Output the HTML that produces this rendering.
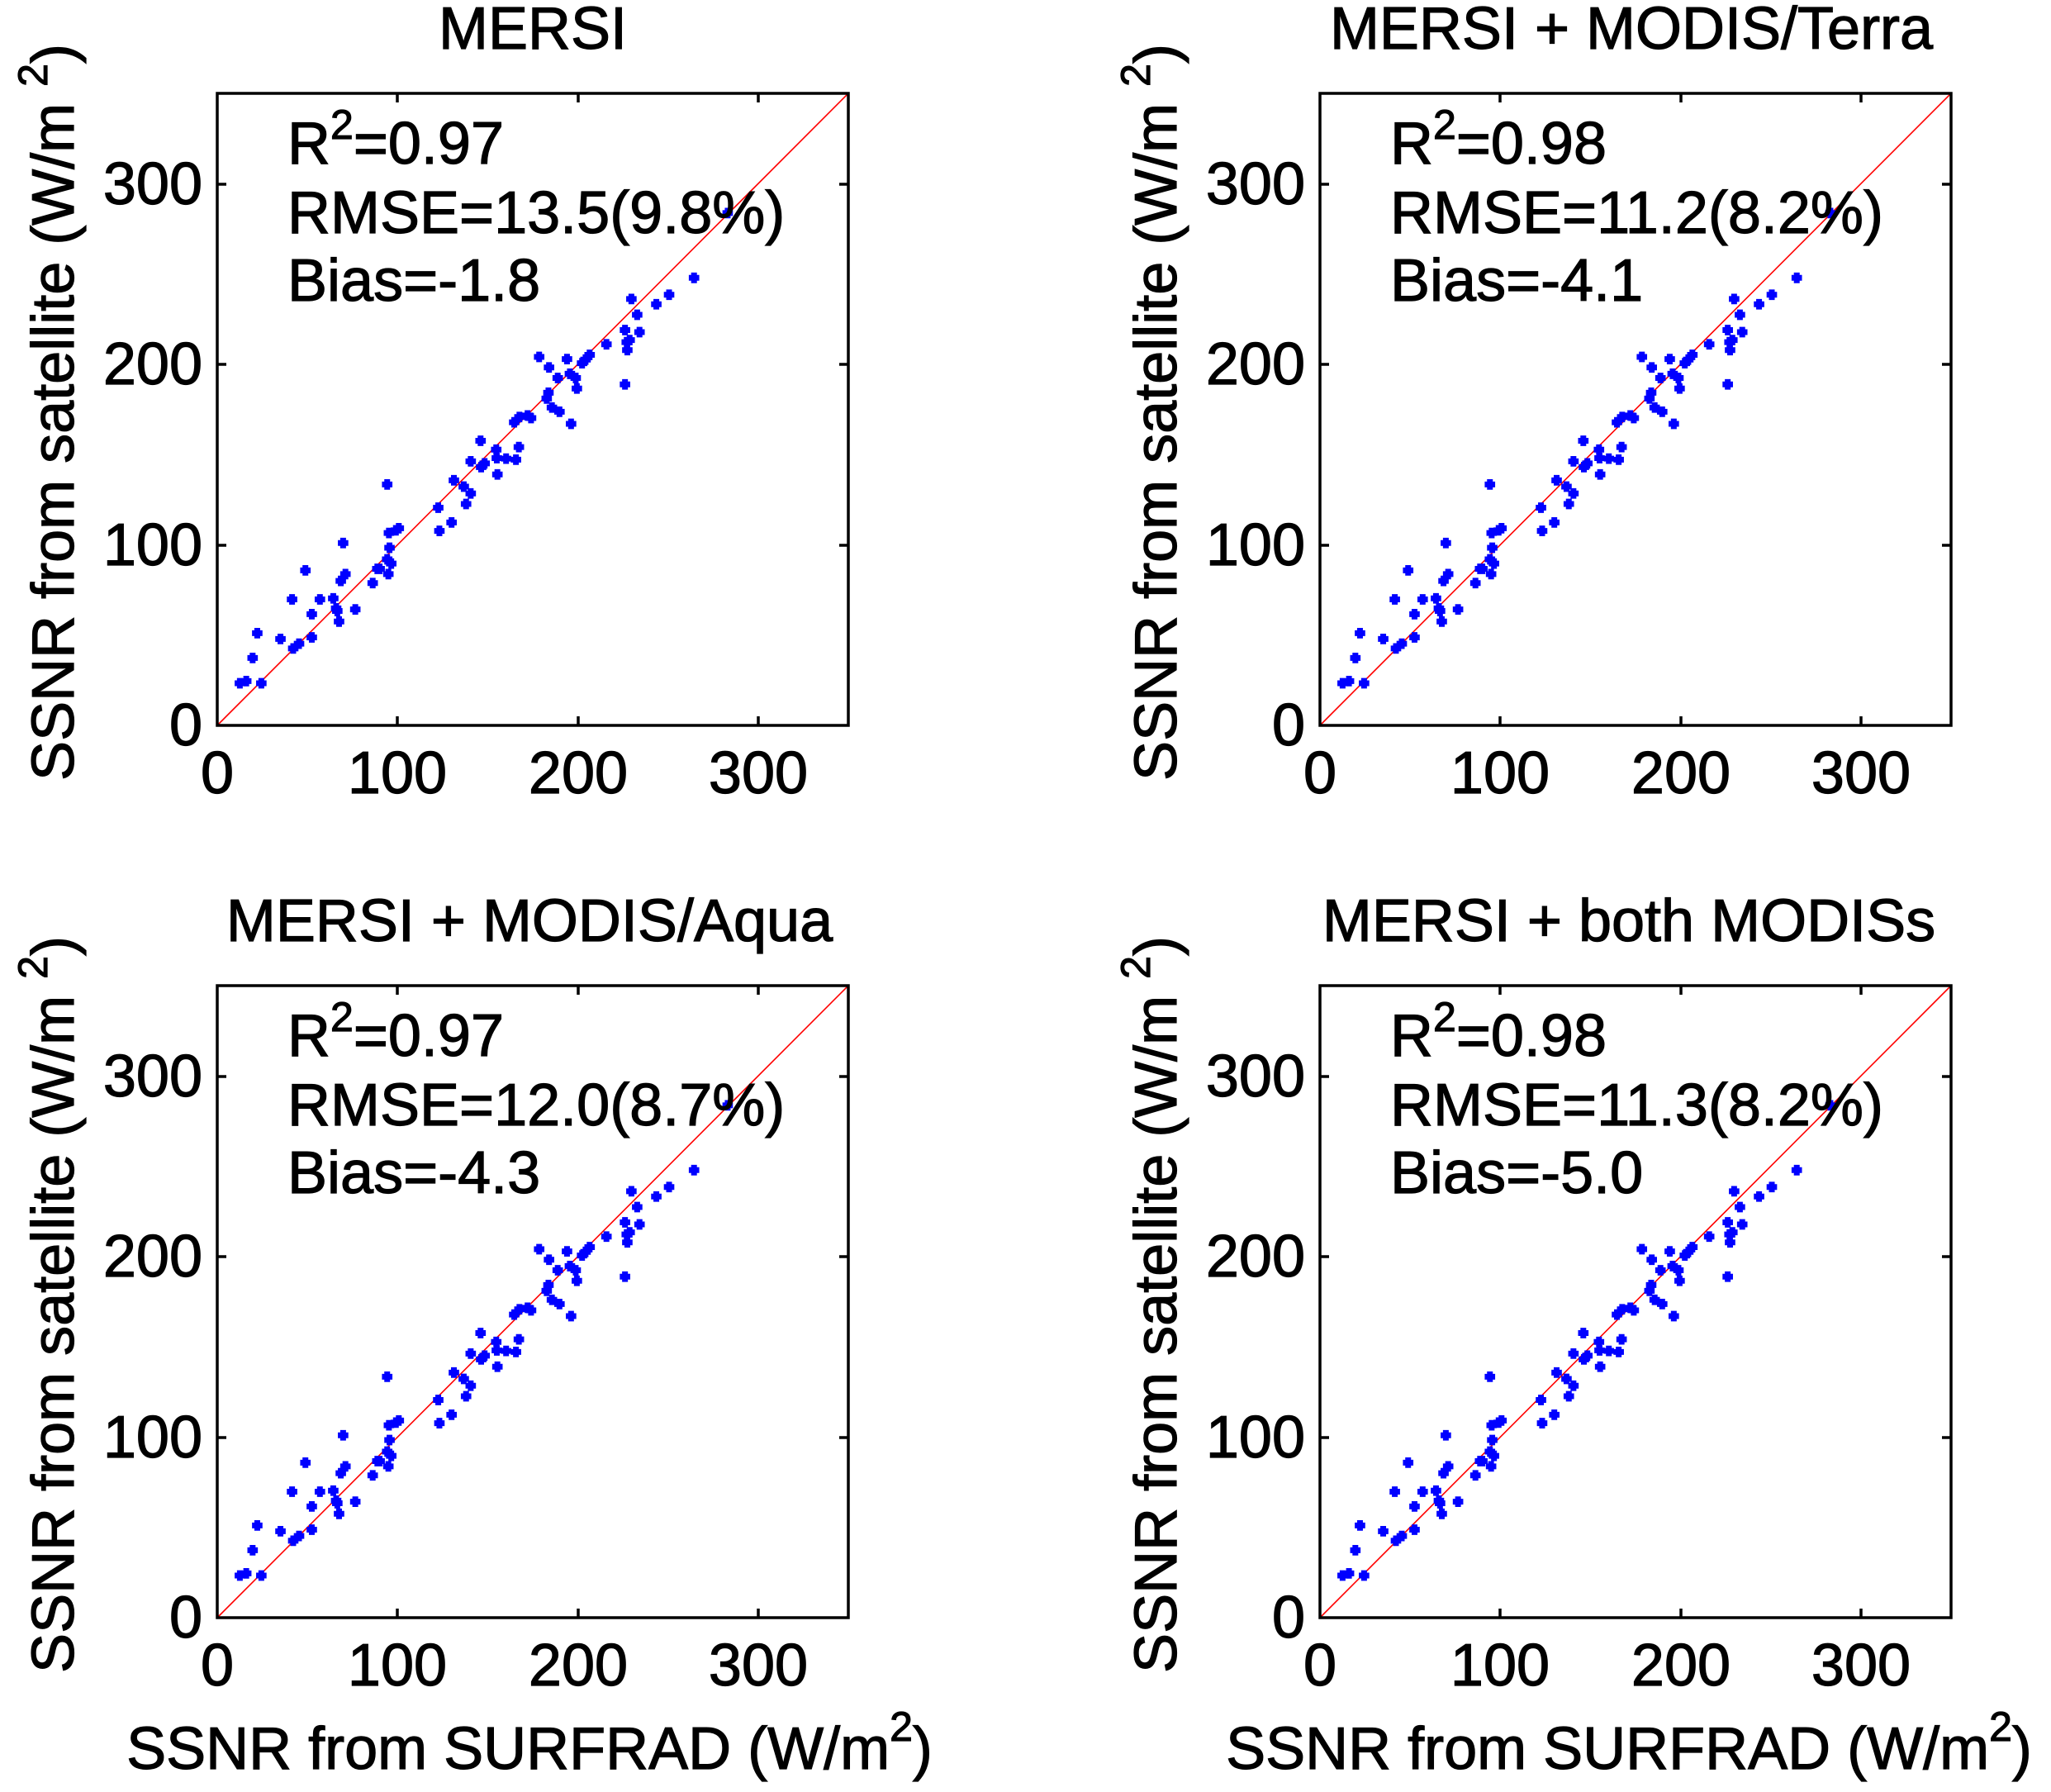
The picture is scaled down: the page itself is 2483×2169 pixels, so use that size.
<!DOCTYPE html>
<html><head><meta charset="utf-8"><style>
html,body{margin:0;padding:0;background:#fff;}
svg{display:block;}
text{font-family:"Liberation Sans",Arial,sans-serif;fill:#000;stroke:#000;stroke-width:1.2px;}
</style></head><body>
<svg width="2483" height="2169" viewBox="0 0 2483 2169" xmlns="http://www.w3.org/2000/svg">
<defs>
<g id="pts" fill="none" stroke="#0000ff" stroke-width="7">
<path vector-effect="non-scaling-stroke" stroke-width="7" d="M405 1297h18m-9-10v20 M416 1293h18m-9-10v20 M442 1297h18m-9-10v20 M427 1249h18m-9-10v20 M435 1202h18m-9-10v20 M475 1213h18m-9-10v20 M497 1231h18m-9-10v20 M507 1222h18m-9-10v20 M529 1210h18m-9-10v20 M529 1166h18m-9-10v20 M543 1138h18m-9-10v20 M495 1138h18m-9-10v20 M518 1083h18m-9-10v20 M566 1136h18m-9-10v20 M571 1155h18m-9-10v20 M576 1180h18m-9-10v20 M573 1160h18m-9-10v20 M604 1157h18m-9-10v20 M579 1103h18m-9-10v20 M587 1090h18m-9-10v20 M583 1031h18m-9-10v20 M634 1107h18m-9-10v20 M642 1080h18m-9-10v20 M646 1080h18m-9-10v20 M661 1090h18m-9-10v20 M659 1062h18m-9-10v20 M666 1070h18m-9-10v20 M663 1040h18m-9-10v20 M662 1012h18m-9-10v20 M659 920h18m-9-10v20 M674 1007h18m-9-10v20 M679 1003h18m-9-10v20 M747 964h18m-9-10v20 M749 1008h18m-9-10v20 M770 992h18m-9-10v20 M774 912h18m-9-10v20 M791 924h18m-9-10v20 M795 957h18m-9-10v20 M803 937h18m-9-10v20 M803 876h18m-9-10v20 M820 837h18m-9-10v20 M821 887h18m-9-10v20 M827 880h18m-9-10v20 M847 854h18m-9-10v20 M848 870h18m-9-10v20 M849 901h18m-9-10v20 M864 871h18m-9-10v20 M881 873h18m-9-10v20 M886 849h18m-9-10v20 M878 802h18m-9-10v20 M887 792h18m-9-10v20 M901 789h18m-9-10v20 M907 794h18m-9-10v20 M921 678h18m-9-10v20 M938 698h18m-9-10v20 M937 746h18m-9-10v20 M934 757h18m-9-10v20 M943 774h18m-9-10v20 M956 782h18m-9-10v20 M953 718h18m-9-10v20 M969 682h18m-9-10v20 M974 710h18m-9-10v20 M984 718h18m-9-10v20 M986 738h18m-9-10v20 M976 805h18m-9-10v20 M995 690h18m-9-10v20 M1001 683h18m-9-10v20 M1008 674h18m-9-10v20 M1037 654h18m-9-10v20 M1069 627h18m-9-10v20 M1072 650h18m-9-10v20 M1073 665h18m-9-10v20 M1069 730h18m-9-10v20 M1077 646h18m-9-10v20 M1080 568h18m-9-10v20 M1090 598h18m-9-10v20 M1094 631h18m-9-10v20 M1123 578h18m-9-10v20 M1145 560h18m-9-10v20 M1188 528h18m-9-10v20 M1246 405h18m-9-10v20"/>
</g>
<g id="panel">
<line x1="263" y1="878" x2="1027" y2="113" stroke="#ff0000" stroke-width="1.6"/>
<svg x="263" y="113" width="764" height="765" viewBox="375 178 1088 1199" preserveAspectRatio="none" overflow="visible"><use href="#pts"/></svg>
<rect x="263" y="113" width="764" height="765" fill="none" stroke="#000" stroke-width="3.5"/>
<g stroke="#000" stroke-width="3.5">
<path d="M481 878v-11M700 878v-11M918 878v-11M481 113v11M700 113v11M918 113v11M263 660h11M263 441h11M263 223h11M1027 660h-11M1027 441h-11M1027 223h-11"/>
</g>
<g font-size="72" text-anchor="end">
<text x="245" y="902">0</text><text x="245" y="684">100</text><text x="245" y="465">200</text><text x="245" y="247">300</text>
</g>
<g font-size="72" text-anchor="middle">
<text x="263" y="960">0</text><text x="481" y="960">100</text><text x="700" y="960">200</text><text x="918" y="960">300</text>
</g>
<text font-size="72" text-anchor="middle" transform="translate(89,499) rotate(-90)">SSNR from satellite (W/m <tspan font-size="50" dy="-32">2</tspan><tspan dy="32">)</tspan></text>
</g>
</defs>

<use href="#panel"/>
<use href="#panel" transform="translate(1335,0)"/>
<use href="#panel" transform="translate(0,1080)"/>
<use href="#panel" transform="translate(1335,1080)"/>

<g font-size="72" text-anchor="middle">
<text x="645" y="59">MERSI</text>
<text x="1975" y="59">MERSI + MODIS/Terra</text>
<text x="641" y="1139">MERSI + MODIS/Aqua</text>
<text x="1972" y="1139">MERSI + both MODISs</text>
<text x="641" y="2141">SSNR from SURFRAD (W/m<tspan font-size="50" dy="-34">2</tspan><tspan dy="34">)</tspan></text>
<text x="1972" y="2141">SSNR from SURFRAD (W/m<tspan font-size="50" dy="-34">2</tspan><tspan dy="34">)</tspan></text>
</g>

<g font-size="72">
<text x="348" y="198">R<tspan font-size="50" dy="-30">2</tspan><tspan dy="30">=0.97</tspan></text>
<text x="348" y="282">RMSE=13.5(9.8%)</text>
<text x="348" y="364">Bias=-1.8</text>
<text x="1683" y="198">R<tspan font-size="50" dy="-30">2</tspan><tspan dy="30">=0.98</tspan></text>
<text x="1683" y="282">RMSE=11.2(8.2%)</text>
<text x="1683" y="364">Bias=-4.1</text>
<text x="348" y="1278">R<tspan font-size="50" dy="-30">2</tspan><tspan dy="30">=0.97</tspan></text>
<text x="348" y="1362">RMSE=12.0(8.7%)</text>
<text x="348" y="1444">Bias=-4.3</text>
<text x="1683" y="1278">R<tspan font-size="50" dy="-30">2</tspan><tspan dy="30">=0.98</tspan></text>
<text x="1683" y="1362">RMSE=11.3(8.2%)</text>
<text x="1683" y="1444">Bias=-5.0</text>
</g>
</svg>
</body></html>
